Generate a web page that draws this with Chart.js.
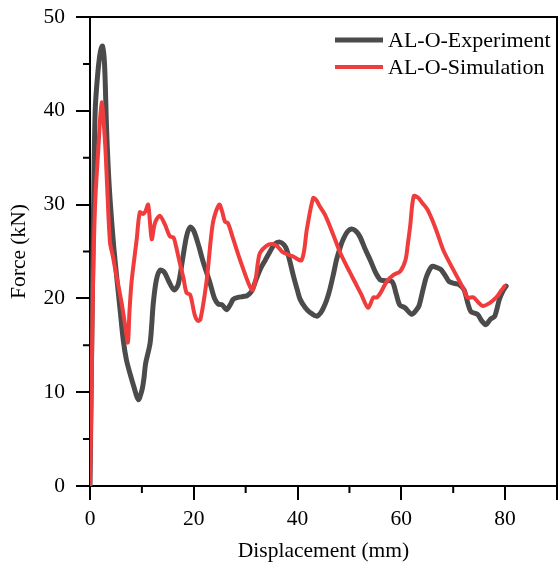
<!DOCTYPE html>
<html>
<head>
<meta charset="utf-8">
<script src="https://cdn.jsdelivr.net/npm/chart.js@4/dist/chart.umd.min.js"></script>
<style>
  html, body { margin: 0; padding: 0; background: #fff; }
  #wrap { width: 558px; height: 566px; }
</style>
</head>
<body>
<div id="wrap"><canvas id="chart" width="558" height="566"></canvas></div>
<script>
// Experiment curve (displacement mm, force kN)
const expX = [0, 0.4, 0.7, 1.0, 1.5, 2.0, 2.4, 2.8, 3.2, 3.7, 4.5, 5.2, 5.8, 6.4, 7.0, 7.7, 8.5, 9.3, 10.0, 10.4, 10.7, 11.6, 12.2, 12.8, 13.5, 14.3, 15.2, 16.2, 17.0, 17.8, 18.6, 19.3, 20.0, 21.0, 21.8, 23.1, 24.0, 24.7, 25.5, 26.3, 27.0, 27.6, 28.5, 29.5, 30.3, 31.2, 32.0, 32.8, 33.8, 34.7, 35.6, 36.6, 37.4, 37.9, 38.5, 39.2, 40.0, 40.5, 41.5, 42.4, 43.7, 44.5, 45.0, 45.6, 46.2, 47.0, 47.5, 48.2, 48.8, 49.6, 50.4, 51.2, 52.0, 53.0, 54.0, 55.0, 55.9, 56.6, 58.2, 59.0, 59.7, 60.7, 62.0, 62.8, 63.4, 64.2, 64.9, 65.9, 66.8, 67.6, 68.5, 69.2, 70.2, 71.1, 72.1, 72.8, 73.4, 74.7, 75.5, 76.3, 77.2, 78.0, 78.9, 79.6, 80.2];
const expY = [0, 18, 30, 40, 44, 46.3, 46.9, 45, 38, 32, 26, 22, 18.8, 15.6, 13.5, 12, 10.5, 9.2, 10.2, 11.5, 13, 15.3, 19.5, 22, 23, 22.8, 21.8, 20.9, 21.5, 24, 26.6, 27.6, 27.2, 25.5, 23.9, 21.7, 20, 19.4, 19.3, 18.8, 19.3, 19.9, 20.1, 20.2, 20.3, 20.8, 22, 23.1, 24.1, 25, 25.8, 26, 25.7, 25.2, 24, 22.4, 20.8, 19.9, 19, 18.5, 18.1, 18.5, 19, 19.8, 20.9, 22.8, 24.1, 25.4, 26.3, 27.1, 27.4, 27.2, 26.6, 25.3, 24.1, 22.8, 22, 21.9, 21.8, 20.5, 19.3, 19, 18.3, 18.7, 19.2, 21, 22.4, 23.4, 23.3, 23.1, 22.4, 21.8, 21.6, 21.5, 20.9, 19.5, 18.6, 18.3, 17.6, 17.2, 17.8, 18.1, 19.9, 20.8, 21.3];

// Simulation curve
const simX = [0, 0.3, 0.6, 1.0, 1.6, 2.25, 2.9, 3.3, 3.85, 4.4, 5.1, 6.1, 6.8, 7.3, 7.6, 8.0, 9.0, 9.6, 10.2, 10.7, 11.2, 11.5, 11.9, 12.4, 12.8, 13.5, 14.5, 15.4, 16.1, 16.6, 17.3, 18.0, 18.6, 19.3, 20.2, 20.8, 21.3, 22.5, 23.7, 24.9, 25.5, 26.0, 26.6, 27.5, 29.3, 31.2, 31.9, 32.4, 32.8, 34.0, 35.0, 36.0, 37.2, 39.0, 40.8, 41.8, 43.0, 43.6, 44.3, 45.3, 46.8, 48.2, 49.6, 51.0, 52.3, 53.6, 54.6, 55.3, 56.0, 57.2, 58.5, 59.8, 60.8, 61.3, 61.7, 62.4, 63.3, 64.0, 65.0, 66.0, 66.9, 68.2, 72.1, 72.7, 73.9, 74.8, 75.7, 77.0, 78.3, 79.2, 79.9];
const simY = [0, 10, 22, 30.2, 35.9, 40.9, 36.6, 32, 26, 24.5, 22.4, 19.5, 17, 15.3, 18.5, 21.7, 26.3, 29.2, 29, 29.3, 30, 28.5, 26.3, 27.8, 28.4, 28.8, 27.8, 26.6, 26.5, 25.5, 23.8, 22.2, 20.6, 20.4, 18.2, 17.6, 17.8, 22, 28.1, 30, 29.2, 28.2, 28, 26.5, 23.5, 20.9, 22, 24, 24.9, 25.6, 25.8, 25.6, 24.9, 24.5, 24.1, 27.4, 30.7, 30.5, 29.8, 28.9, 26.9, 24.9, 23.3, 21.8, 20.4, 19, 20.1, 20.1, 20.6, 21.8, 22.5, 22.9, 24.1, 26, 27.7, 30.9, 30.7, 30.2, 29.5, 28.3, 27, 25, 20.9, 20.1, 20.1, 19.6, 19.2, 19.5, 20.1, 20.8, 21.3];

const seriesNames = ['AL-O-Experiment', 'AL-O-Simulation'];
const xMajorTicks = [0, 20, 40, 60, 80, 90];
const xMinorTicks = [10, 30, 50, 70];
const yMinorTicks = [5, 15, 25, 35, 45];

const FONT = 'Liberation Serif, "Times New Roman", serif';

function toPoints(xs, ys) {
    return xs.map((x, i) => ({ x: x, y: ys[i] }));
}

// ticks secondari, cornice e legenda dentro l'area del grafico
const extras = {
    id: 'extras',
    afterDraw(chart) {
        const ctx = chart.ctx;
        const a = chart.chartArea;
        const xs = chart.scales.x, ys = chart.scales.y;
        ctx.save();
        ctx.strokeStyle = '#000';
        ctx.lineWidth = 2;
        ctx.beginPath();
        xMinorTicks.forEach(v => {
            const px = xs.getPixelForValue(v);
            ctx.moveTo(px, a.bottom);
            ctx.lineTo(px, a.bottom + 7);
        });
        yMinorTicks.forEach(v => {
            const py = ys.getPixelForValue(v);
            ctx.moveTo(a.left, py);
            ctx.lineTo(a.left - 7, py);
        });
        // bordo superiore e destro
        ctx.moveTo(a.left - 1, a.top);
        ctx.lineTo(a.right, a.top);
        ctx.lineTo(a.right, a.bottom);
        ctx.stroke();

        // legenda
        ctx.font = '22px ' + FONT;
        ctx.textBaseline = 'middle';
        ctx.textAlign = 'left';
        chart.data.datasets.forEach((ds, i) => {
            const y = 40 + i * 27;
            ctx.strokeStyle = ds.borderColor;
            ctx.lineWidth = ds.borderWidth;
            ctx.beginPath();
            ctx.moveTo(335, y);
            ctx.lineTo(383, y);
            ctx.stroke();
            ctx.fillStyle = '#000';
            ctx.fillText(ds.label, 388, y + 1);
        });
        ctx.restore();
    }
};

new Chart(document.getElementById('chart'), {
    type: 'line',
    data: {
        datasets: [
            {
                label: seriesNames[0],
                data: toPoints(expX, expY),
                borderColor: '#4b4b4b',
                borderWidth: 5,
                order: 1
            },
            {
                label: seriesNames[1],
                data: toPoints(simX, simY),
                borderColor: '#f03c3c',
                borderWidth: 4,
                order: 0
            }
        ]
    },
    options: {
        responsive: false,
        animation: false,
        layout: { padding: { top: 17, right: 1, left: 0, bottom: 0 } },
        elements: {
            point: { radius: 0 },
            line: { tension: 0.3, fill: false, borderCapStyle: 'round', borderJoinStyle: 'round' }
        },
        plugins: {
            legend: { display: false },
            tooltip: { enabled: false }
        },
        scales: {
            x: {
                type: 'linear',
                min: 0,
                max: 90,
                afterBuildTicks: s => { s.ticks = xMajorTicks.map(v => ({ value: v })); },
                afterFit: s => { s.height = 80; s.paddingRight = 0; s.paddingLeft = 0; },
                grid: { display: true, drawOnChartArea: false, drawTicks: true, tickLength: 14, color: '#000', lineWidth: 2 },
                border: { display: true, color: '#000', width: 2 },
                ticks: {
                    color: '#000',
                    font: { family: FONT, size: 21.5 },
                    padding: 6,
                    maxRotation: 0,
                    autoSkip: false,
                    callback: v => (v === 90 ? '' : v)
                },
                title: {
                    display: true,
                    text: 'Displacement (mm)',
                    color: '#000',
                    font: { family: FONT, size: 21.5 },
                    padding: { top: 0, bottom: 2 }
                }
            },
            y: {
                min: 0,
                max: 50,
                ticks: {
                    stepSize: 10,
                    color: '#000',
                    font: { family: FONT, size: 21.5 },
                    padding: 11
                },
                afterFit: s => { s.width = 90; s.paddingTop = 0; s.paddingBottom = 0; },
                grid: { display: true, drawOnChartArea: false, drawTicks: true, tickLength: 14, color: '#000', lineWidth: 2 },
                border: { display: true, color: '#000', width: 2 },
                title: {
                    display: true,
                    text: 'Force (kN)',
                    color: '#000',
                    font: { family: FONT, size: 21.5 },
                    padding: { top: 6, bottom: 0 }
                }
            }
        }
    },
    plugins: [extras]
});
</script>
</body>
</html>
